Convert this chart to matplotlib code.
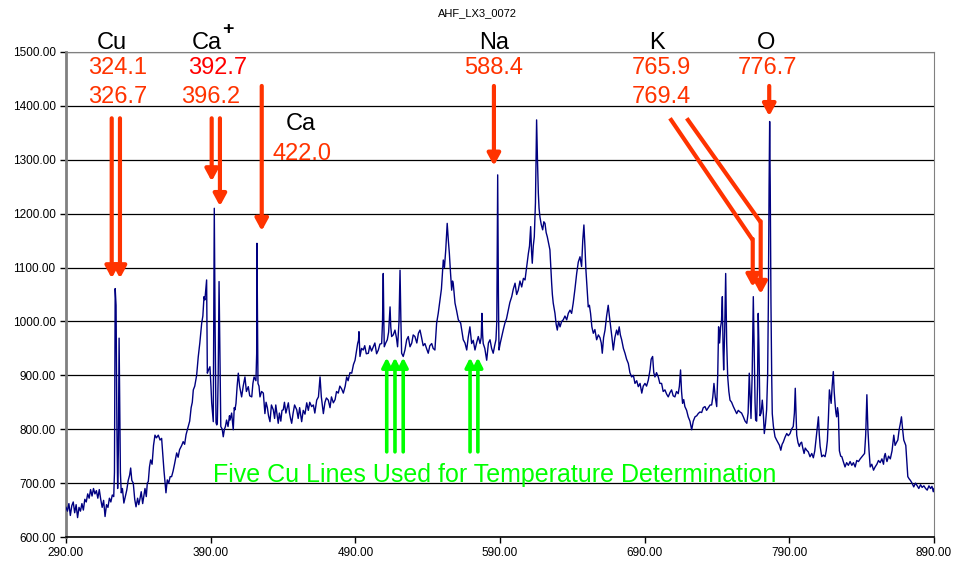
import matplotlib
matplotlib.use("Agg")
from matplotlib import pyplot as plt
import numpy as np

plt.rcParams['font.family'] = ['Liberation Sans', 'DejaVu Sans']

# spectrum: (wavelength, intensity)
spectrum_points = [
    (290, 655), (291, 648), (292, 662), (293, 640), (294, 658), (295, 665), (296, 645), (297, 660),
    (298, 636), (299, 655), (300, 648), (301, 662), (302, 650), (303, 670), (304, 665), (305, 680),
    (306, 672), (307, 688), (308, 676), (309, 690), (310, 680), (311, 686), (312, 672), (313, 688),
    (314, 670), (315, 655), (316, 668), (317, 638), (318, 660), (319, 655), (320, 672), (321, 665),
    (322, 678), (323, 675), (323.5, 720), (324.0, 1061), (324.6, 1030), (325.2, 800), (325.7, 690),
    (326.2, 760), (326.7, 969), (327.1, 860), (327.6, 720), (328.2, 682), (329, 690), (330, 663),
    (331, 675), (332, 687), (333, 705), (334, 715), (334.7, 728), (335.5, 705), (336.5, 700),
    (337.5, 670), (338.4, 656), (339.5, 672), (340.3, 660), (341, 669), (342, 684), (343, 662),
    (344, 680), (344.6, 690), (345.5, 675), (346.2, 700), (346.9, 703), (347.7, 730), (348.5, 743),
    (349.5, 735), (350.5, 770), (351.5, 789), (352.5, 784), (353.8, 789), (355, 780), (356.1, 783),
    (357, 750), (357.7, 724), (358.5, 700), (359.1, 682), (360, 706), (361, 700), (362, 712),
    (363, 712), (364, 722), (365, 735), (366.5, 756), (367.5, 748), (368.5, 762), (370, 770),
    (371, 777), (372, 772), (373, 790), (374.5, 805), (375.5, 815), (376.5, 840), (377.3, 850),
    (378, 873), (379, 880), (380.3, 900), (381.4, 934), (382.5, 960), (383.8, 997), (384.6, 1010),
    (385.4, 1046), (386, 1040), (387.2, 1077), (387.7, 904), (388.5, 910), (389.5, 916), (390.2, 880),
    (390.7, 849), (391.3, 830), (391.8, 814), (392.5, 1210), (393.1, 980), (393.7, 812), (394.2, 808),
    (394.6, 811), (395.2, 900), (395.8, 1074), (396.4, 940), (397, 805), (398, 800), (398.7, 786),
    (399.5, 800), (400.2, 805), (401, 817), (402, 805), (403, 825), (403.4, 817), (404.5, 830),
    (405.6, 799), (406.3, 840), (406.8, 836), (407.5, 848), (408.3, 880), (409.1, 904), (410, 880),
    (410.7, 870), (411.4, 860), (412.5, 880), (413.7, 897), (414.7, 870), (416, 879), (417, 862),
    (418.4, 860), (419.2, 885), (420, 897), (421.3, 890), (421.8, 940), (422.0, 1145), (422.4, 1000),
    (422.7, 885), (423.4, 880), (424.1, 860), (425.2, 870), (426.4, 867), (427.5, 829), (428.3, 850),
    (429.2, 840), (430, 825), (431, 814), (432, 845), (433.3, 836), (434.2, 820), (435, 845),
    (436.7, 811), (437.5, 830), (438.5, 815), (439.3, 835), (440.2, 836), (441, 850), (442, 830),
    (443.7, 849), (444.5, 830), (445.2, 820), (446, 811), (447, 830), (448, 845), (449.5, 836),
    (450.5, 820), (451.5, 840), (452.9, 814), (454, 835), (455.2, 828), (456.4, 849), (457.5, 835),
    (458.5, 850), (459.8, 842), (461, 845), (462, 830), (463.3, 854), (464.5, 860), (465.6, 897),
    (466.5, 860), (467.9, 829), (469, 850), (470, 858), (471.3, 854), (472.5, 840), (473.5, 860),
    (474.8, 849), (476, 855), (477, 870), (478.2, 867), (479.3, 880), (480.5, 875), (481.7, 867),
    (483, 880), (484, 897), (485, 890), (486.3, 905), (487.5, 904), (488.7, 920), (489.8, 928),
    (490.8, 945), (491.6, 959), (492.2, 965), (492.5, 981), (493.2, 935), (494.3, 950), (495.5, 947),
    (496.5, 955), (497.6, 940), (499, 941), (500, 955), (501.2, 945), (502.4, 953), (503.5, 960),
    (504.7, 940), (505.9, 947), (507, 958), (508.2, 959), (508.8, 1000), (509.3, 1089), (509.7, 1000),
    (510, 953), (511, 960), (512.1, 966), (513, 980), (513.6, 1010), (514, 1027), (514.5, 990),
    (515.1, 972), (516.2, 975), (517.4, 984), (518.4, 970), (519.2, 953), (520.2, 1000), (520.9, 1095),
    (521.5, 1000), (522, 941), (523.1, 935), (524.3, 947), (525.5, 966), (526.6, 972), (527.8, 953),
    (529, 960), (530, 975), (531.2, 972), (532.5, 960), (533.6, 978), (534.7, 984), (535.8, 970),
    (536.9, 955), (538.1, 959), (539.2, 950), (540.4, 941), (541.5, 955), (542.8, 959), (543.8, 950),
    (545, 947), (546.2, 997), (547.3, 1015), (548.5, 1040), (549.5, 1060), (550.8, 1114), (551.6, 1100),
    (552.5, 1133), (553.5, 1182), (554.3, 1150), (555, 1126), (555.8, 1090), (556.6, 1058),
    (557.2, 1075), (557.7, 1070), (558.9, 1034), (560, 1020), (561.2, 1003), (562.8, 997), (563.8, 980),
    (564.6, 966), (565.8, 960), (567, 947), (568, 970), (569.2, 990), (570.4, 959), (571.5, 965),
    (572.7, 947), (573.8, 960), (575, 972), (576.2, 959), (577, 970), (577.5, 1015), (578, 975),
    (578.4, 959), (579.5, 950), (580.8, 928), (582, 960), (583.1, 966), (584.2, 950), (585.3, 941),
    (586.3, 955), (587.2, 966), (587.8, 1000), (588.4, 1272), (588.9, 1050), (589.3, 947), (590.2, 960),
    (591.2, 972), (592.3, 985), (593.4, 997), (594.5, 1005), (595.7, 1021), (596.8, 1035), (598.1, 1046),
    (599.2, 1060), (600.4, 1071), (601.5, 1050), (602.6, 1058), (603.8, 1075), (605, 1064), (606.2, 1080),
    (607.3, 1077), (608.4, 1100), (609.6, 1126), (610.4, 1140), (611.2, 1176), (611.8, 1130),
    (612.3, 1108), (613, 1140), (613.7, 1157), (614.5, 1220), (615.3, 1374), (615.9, 1300),
    (616.5, 1238), (617, 1210), (617.6, 1194), (618.5, 1180), (619.5, 1170), (620.3, 1185),
    (621.1, 1182), (621.9, 1165), (622.7, 1157), (623.6, 1145), (624.5, 1133), (625.1, 1100),
    (625.7, 1071), (626.2, 1050), (626.8, 1034), (627.4, 1025), (628, 1015), (628.8, 995), (629.6, 984),
    (630.5, 1000), (631.5, 990), (632.6, 1000), (633.7, 1003), (634.9, 1010), (636.1, 1003),
    (637.2, 1015), (638.4, 1021), (639.5, 1015), (640.6, 1034), (641.8, 1060), (643, 1089),
    (644.1, 1110), (645.3, 1120), (646.4, 1102), (647.2, 1150), (648, 1179), (648.7, 1140),
    (649.4, 1095), (650.2, 1060), (651, 1027), (651.8, 1030), (652.6, 1015), (653.5, 990), (654.5, 978),
    (655.6, 985), (656.8, 966), (658, 975), (659.1, 970), (660, 960), (660.7, 941), (661.6, 970),
    (662.6, 984), (663.7, 1010), (664.8, 1030), (665.6, 1010), (666.5, 990), (667.4, 970), (668.3, 947),
    (669.4, 970), (670.6, 984), (671.5, 975), (672.4, 990), (673.2, 975), (674.1, 966), (675.3, 950),
    (676.4, 941), (677.5, 930), (678.7, 922), (679.8, 905), (681, 897), (682.2, 900), (683.3, 885),
    (684.5, 890), (685.6, 879), (686.8, 885), (688, 867), (689, 880), (690.2, 885), (691.3, 880),
    (692.5, 891), (693.1, 900), (693.7, 910), (694.5, 930), (695.5, 935), (696.3, 905), (697.1, 897),
    (698.2, 905), (699.4, 897), (700.5, 885), (701.7, 885), (702.8, 870), (704, 873), (705.2, 865),
    (706.3, 860), (707.5, 868), (708.6, 873), (709.7, 862), (710.9, 860), (712, 870), (713.2, 866),
    (714, 880), (714.8, 910), (715.5, 870), (716.2, 848), (717, 855), (717.8, 842), (719, 835),
    (720.1, 823), (721.3, 815), (722.5, 799), (723.6, 815), (724.8, 823), (726, 825), (727, 829),
    (728.2, 832), (729.4, 831), (730.5, 840), (731.7, 842), (732.8, 835), (734, 840), (735.2, 845),
    (736.3, 845), (737.1, 860), (737.9, 885), (738.8, 860), (739.8, 842), (740.5, 900), (741.1, 990),
    (741.8, 960), (742.5, 990), (743.1, 1000), (743.7, 1046), (744.2, 950), (744.6, 910), (745.3, 980),
    (746, 1089), (746.7, 960), (747.4, 897), (748.2, 870), (749, 854), (750.1, 850), (751.3, 842),
    (752.5, 835), (753.6, 829), (754.7, 835), (755.9, 832), (757, 830), (758.2, 823), (759.4, 815),
    (760.6, 811), (761.5, 830), (762.3, 904), (762.9, 860), (763.5, 820), (764.3, 900), (765.1, 1046),
    (765.7, 950), (766.3, 850), (766.7, 817), (767.4, 815), (768, 880), (768.5, 1015), (769, 950),
    (769.7, 825), (770.5, 830), (771.3, 854), (772, 830), (772.7, 792), (773.5, 810), (774.3, 836),
    (775, 900), (775.5, 1034), (776, 1250), (776.4, 1371), (776.8, 1250), (777.3, 1034), (777.8, 900),
    (778.2, 829), (779, 805), (780.1, 786), (781.2, 780), (782.4, 774), (783.2, 770), (784.1, 761),
    (785, 772), (785.8, 776), (787, 785), (788.2, 792), (789.3, 788), (790.5, 792), (791.5, 800),
    (792.7, 805), (793.5, 830), (794.1, 876), (794.6, 830), (795.1, 789), (796, 775), (796.9, 768),
    (797.7, 774), (798.5, 776), (799.3, 765), (800.2, 755), (801, 765), (802, 761), (803.1, 758),
    (804.3, 749), (805.5, 755), (806.6, 747), (807.6, 760), (808.5, 782), (809.2, 800), (810.1, 823),
    (810.7, 790), (811.3, 768), (812.4, 749), (813.5, 752), (814.7, 749), (815.5, 760), (816.3, 779),
    (817, 820), (817.7, 873), (818.3, 860), (818.9, 848), (819.6, 880), (820.4, 907), (821, 870),
    (821.6, 848), (822.2, 830), (822.7, 823), (823.3, 840), (823.9, 829), (824.6, 760), (825.5, 750),
    (826.3, 749), (827.3, 740), (828.5, 730), (829.6, 738), (830.8, 733), (832, 740), (833.2, 733),
    (834.3, 738), (835.5, 730), (836.6, 742), (837.8, 740), (839, 745), (840.2, 749), (841.1, 752),
    (842, 755), (842.8, 790), (843.6, 864), (844.3, 800), (845.1, 760), (845.9, 730), (847, 735),
    (848.2, 724), (849.3, 730), (850.5, 735), (851.6, 742), (852.8, 738), (854, 745), (855.1, 735),
    (855.7, 750), (856.3, 755), (857, 745), (857.5, 740), (858.6, 750), (859.8, 745), (861, 760),
    (862.2, 789), (863.1, 770), (864, 775), (865, 780), (865.9, 799), (866.7, 810), (867.5, 823),
    (868.3, 800), (869.1, 780), (869.8, 775), (870.5, 770), (871.2, 740), (871.9, 712), (872.8, 708),
    (873.7, 705), (874.8, 700), (876, 693), (877.2, 700), (878.4, 695), (879.5, 690), (880.7, 697),
    (881.8, 692), (883, 695), (884.2, 690), (885.3, 687), (886.5, 695), (887.6, 690), (888.6, 694),
    (889.5, 684), (890, 690),
]

# element labels and their line wavelengths
element_names = ['Cu', 'Ca', 'Ca', 'Na', 'K', 'O']
line_labels = ['324.1', '326.7', '392.7', '396.2', '422.0', '588.4', '765.9', '769.4', '776.7']
cu_temperature_lines = [511.7, 517.4, 523.1, 569.3, 574.7]

title = 'AHF_LX3_0072'
green_note = 'Five Cu Lines Used for Temperature Determination'

RED = '#FF3300'
RED2 = '#FF0000'
GREEN = '#00FF00'
NAVY = '#000080'

wl, counts = zip(*spectrum_points)

fig = plt.figure(figsize=(9.55, 5.67), dpi=100)
ax = fig.add_axes([66 / 955., 30 / 567., 868 / 955., 485 / 567.])

ax.plot(wl, counts, color=NAVY, lw=1.0, zorder=3)

ax.set_xlim(290, 890)
ax.set_ylim(600, 1500)
ax.set_xticks(np.arange(290, 891, 100))
ax.set_yticks(np.arange(600, 1501, 100))
ax.xaxis.set_major_formatter(matplotlib.ticker.FormatStrFormatter('%.2f'))
ax.yaxis.set_major_formatter(matplotlib.ticker.FormatStrFormatter('%.2f'))
ax.tick_params(labelsize=8.5, direction='out', length=4, width=1, colors='black')
ax.yaxis.grid(True, color='black', lw=0.9)
ax.set_axisbelow(True)

ax.spines['left'].set_color('#808080')
ax.spines['left'].set_linewidth(2)
ax.spines['right'].set_color('#808080')
ax.spines['top'].set_color('#808080')
ax.spines['bottom'].set_color('black')
ax.spines['bottom'].set_linewidth(1.2)

fig.text(0.5, 1 - 13 / 567., title, ha='center', va='center', fontsize=8)

# element names (black)
big = 17
name_pos = [(321.8, 1506), (387.1, 1506), (452.4, 1355), (586.2, 1506), (698.5, 1506), (773.9, 1506)]
for name, (x, y) in zip(element_names, name_pos):
    ax.text(x, y, name, ha='center', va='baseline', fontsize=big, color='black', clip_on=False)
ax.text(401.8, 1541, '+', ha='center', va='center', fontsize=14, fontweight='bold',
        color='black', clip_on=False)

# wavelength labels (red)
lab_pos = [(325.9, 1460), (325.9, 1405), (394.9, 1460), (390.2, 1405), (453.1, 1300),
           (585.8, 1460), (701.3, 1460), (701.3, 1405), (775.2, 1460)]
for lab, (x, y) in zip(line_labels, lab_pos):
    c = RED2 if lab == '392.7' else RED
    ax.text(x, y, lab, ha='center', va='baseline', fontsize=big, color=c, clip_on=False)


def arrow(x0, y0, x1, y1, color, lw, hw, hl):
    ax.annotate('', xy=(x1, y1), xytext=(x0, y0), annotation_clip=False,
                arrowprops=dict(arrowstyle='-|>,head_width=%g,head_length=%g' % (hw, hl),
                                color=color, lw=lw, shrinkA=0, shrinkB=0), zorder=5)


# red arrows
red_arrows = [(321.6, 1377, 1080), (327.3, 1377, 1080), (390.7, 1377, 1260), (396.4, 1377, 1214),
              (425.3, 1437, 1168), (585.8, 1437, 1289), (776.1, 1437, 1381)]
for x, y0, y1 in red_arrows:
    arrow(x, y0, x, y1, RED, 3.0, 0.38, 0.7)

# K arrows, bent
ax.plot([707.5, 764.7], [1377, 1151], color=RED, lw=3.0, solid_capstyle='butt', zorder=5)
arrow(764.7, 1153, 764.7, 1064, RED, 3.0, 0.38, 0.7)
ax.plot([719.1, 770.2], [1377, 1184], color=RED, lw=3.0, solid_capstyle='butt', zorder=5)
arrow(770.2, 1186, 770.2, 1051, RED, 3.0, 0.38, 0.7)

# green arrows
for x in cu_temperature_lines:
    arrow(x, 758, x, 933, GREEN, 2.6, 0.28, 0.55)

ax.text(586.5, 702, green_note, ha='center', va='baseline', fontsize=18, color=GREEN, zorder=6)

fig.savefig('out.png', dpi=100)
